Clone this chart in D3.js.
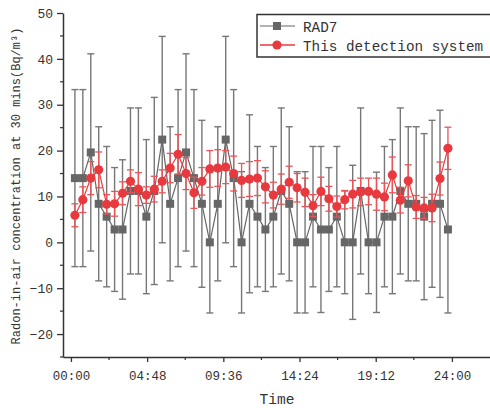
<!DOCTYPE html>
<html>
<head>
<meta charset="utf-8">
<script src="https://cdn.jsdelivr.net/npm/d3@7"></script>
<style>
  body { margin: 0; background: #fff; }
  svg { display: block; font-family: "Liberation Mono", "DejaVu Sans Mono", monospace; }
</style>
</head>
<body>
<svg id="chart" width="490" height="408"></svg>
<script>
// minutes after midnight for each 30-min sample
const times = [15, 45, 75, 105, 135, 165, 195, 225, 255, 285, 315, 345,
  375, 405, 435, 465, 495, 525, 555, 585, 615, 645, 675, 705,
  735, 765, 795, 825, 855, 885, 915, 945, 975, 1005, 1035, 1065,
  1095, 1125, 1155, 1185, 1215, 1245, 1275, 1305, 1335, 1365, 1395, 1425];

const rad7 = [14, 14, 19.6, 8.4, 5.6, 2.8, 2.8, 11.2, 11.2, 5.6, 11.2, 22.4,
  8.4, 14, 19.6, 14, 8.4, 0, 8.4, 22.4, 14, 0, 8.4, 5.6,
  2.8, 5.6, 11.2, 8.4, 0, 0, 5.6, 2.8, 2.8, 5.6, 0, 0,
  11.2, 0, 0, 5.6, 5.6, 11.2, 8.4, 8.4, 5.6, 8.4, 8.4, 2.8];
const rad7Err = [19.3, 19.3, 21.5, 16.8, 15.3, 13.5, 15.2, 18.1, 18.1, 16.8, 20.4, 22.5,
  16.8, 19.3, 21.5, 19.3, 18.2, 15.4, 16.8, 22.5, 19.3, 15.4, 19.4, 15.3,
  13.5, 15.3, 18.1, 16.8, 15.4, 15.4, 15.3, 18.1, 13.5, 15.3, 11.2, 16.8,
  18.1, 11.2, 15.3, 15.3, 16.8, 18.1, 16.8, 16.8, 18.1, 18.2, 20.4, 18.2];

const detect = [5.9, 9.3, 14.0, 15.8, 8.3, 8.4, 10.7, 13.3, 11.6, 10.3, 11.6, 13.3,
  16.2, 19.2, 15.0, 10.8, 13.3, 16.0, 16.2, 16.4, 15.0, 13.5, 13.8, 14.0,
  12.1, 10.3, 11.6, 13.1, 11.9, 10.9, 8.0, 11.1, 9.5, 7.8, 9.3, 10.5,
  11.0, 11.1, 10.5, 9.9, 14.7, 9.2, 13.4, 7.7, 7.5, 7.5, 13.9, 20.5];
const detectErr = [2.5, 2.8, 3.6, 3.9, 2.1, 2.7, 2.5, 2.5, 3.6, 1.8, 2.8, 2.5,
  3.2, 4.3, 3.5, 3.4, 3.0, 4.0, 4.0, 3.6, 3.8, 3.7, 3.8, 3.8,
  3.5, 2.8, 3.3, 3.5, 3.1, 3.1, 2.4, 3.1, 2.7, 2.3, 2.0, 3.0,
  3.0, 2.9, 3.5, 3.0, 3.9, 2.8, 3.5, 2.5, 2.3, 3.0, 3.6, 4.6];

const xTicks = [0, 288, 576, 864, 1152, 1440];
const xTickLabels = ["00:00", "04:48", "09:36", "14:24", "19:12", "24:00"];
const yTicks = [-20, -10, 0, 10, 20, 30, 40, 50];
const seriesNames = ["RAD7", "This detection system"];

const GRAY = "#666666", RED = "#e8393e", RED_BAR = "#e95458";

const svg = d3.select("#chart");
const x = d3.scaleLinear().domain([-30, 1584]).range([63, 490]);
const y = d3.scaleLinear().domain([-25, 50]).range([357, 13]);

// axes
const xAxis = d3.axisBottom(x).tickValues(xTicks)
  .tickFormat((d, i) => xTickLabels[i]).tickSize(5).tickSizeOuter(0);
const gx = svg.append("g").attr("transform", "translate(0,357)").call(xAxis);
gx.select(".domain").attr("stroke", "#333").attr("stroke-width", 1.5);
gx.selectAll(".tick line").attr("stroke", "#333").attr("stroke-width", 1.3);
gx.selectAll(".tick text").attr("font-family", "Liberation Mono")
  .attr("font-size", 12.5).attr("fill", "#333").attr("dy", "1.2em");
// minor x ticks
svg.append("g").selectAll("line")
  .data(xTicks.slice(0, -1).map(t => t + 144))
  .join("line")
  .attr("x1", d => x(d)).attr("x2", d => x(d))
  .attr("y1", 357).attr("y2", 360)
  .attr("stroke", "#333").attr("stroke-width", 1.2);

const yAxis = d3.axisLeft(y).tickValues(yTicks)
  .tickFormat(d => d < 0 ? "\u2212" + Math.abs(d) : d).tickSize(6).tickSizeOuter(0);
const gy = svg.append("g").attr("transform", "translate(63,0)").call(yAxis);
gy.select(".domain").attr("stroke", "#333").attr("stroke-width", 1.5);
gy.selectAll(".tick line").attr("stroke", "#333").attr("stroke-width", 1.3);
gy.selectAll(".tick text").attr("font-family", "Liberation Mono")
  .attr("font-size", 13).attr("fill", "#333").attr("x", -10);
// minor y ticks
svg.append("g").selectAll("line")
  .data(yTicks.map(t => t - 5))
  .join("line")
  .attr("x1", 60).attr("x2", 63)
  .attr("y1", d => y(d)).attr("y2", d => y(d))
  .attr("stroke", "#333").attr("stroke-width", 1.2);

// axis titles
svg.append("text").attr("x", 277).attr("y", 404).attr("text-anchor", "middle")
  .attr("font-size", 14.5).attr("fill", "#333").text("Time");
svg.append("text").attr("transform", "translate(20,186) rotate(-90)")
  .attr("text-anchor", "middle").attr("font-size", 12).attr("fill", "#333")
  .text("Radon-in-air concentration at 30 mins(Bq/m\u00b3)");

// draw one series with error bars
function drawSeries(vals, errs, opts) {
  const g = svg.append("g");
  const bars = g.append("g").attr("stroke", opts.barColor).attr("stroke-width", opts.barWidth);
  times.forEach((t, i) => {
    const cx = x(t), top = y(vals[i] + errs[i]), bot = y(vals[i] - errs[i]);
    bars.append("line").attr("x1", cx).attr("x2", cx).attr("y1", top).attr("y2", bot);
    bars.append("line").attr("x1", cx - opts.cap).attr("x2", cx + opts.cap).attr("y1", top).attr("y2", top);
    bars.append("line").attr("x1", cx - opts.cap).attr("x2", cx + opts.cap).attr("y1", bot).attr("y2", bot);
  });
  const line = d3.line().x((d, i) => x(times[i])).y(d => y(d));
  g.append("path").datum(vals).attr("d", line)
    .attr("fill", "none").attr("stroke", opts.color).attr("stroke-width", 1.2);
  if (opts.shape === "square") {
    g.selectAll("rect").data(vals).join("rect")
      .attr("x", (d, i) => x(times[i]) - 4).attr("y", d => y(d) - 4)
      .attr("width", 8).attr("height", 8).attr("fill", opts.color);
  } else {
    g.selectAll("circle").data(vals).join("circle")
      .attr("cx", (d, i) => x(times[i])).attr("cy", d => y(d))
      .attr("r", 4.6).attr("fill", opts.color);
  }
}

drawSeries(rad7, rad7Err, { color: GRAY, barColor: "#777", barWidth: 1.4, cap: 3.5, shape: "square" });
drawSeries(detect, detectErr, { color: RED, barColor: RED_BAR, barWidth: 1.3, cap: 3.5, shape: "circle" });

// legend (box runs off the right edge, as in the original)
const lg = svg.append("g");
lg.append("rect").attr("x", 257).attr("y", 14.5).attr("width", 245).attr("height", 42.5)
  .attr("fill", "#fff").attr("stroke", "#333").attr("stroke-width", 1.5);
[0, 1].forEach(k => {
  const ly = k === 0 ? 26 : 45;
  const col = k === 0 ? GRAY : RED;
  lg.append("line").attr("x1", 260).attr("x2", 295).attr("y1", ly).attr("y2", ly)
    .attr("stroke", k === 0 ? "#999" : RED).attr("stroke-width", 1.5);
  if (k === 0) {
    lg.append("rect").attr("x", 273).attr("y", ly - 4).attr("width", 8).attr("height", 8).attr("fill", col);
  } else {
    lg.append("circle").attr("cx", 277).attr("cy", ly).attr("r", 4.6).attr("fill", col);
  }
  lg.append("text").attr("x", 303).attr("y", ly + 5.5).attr("font-size", 14.3)
    .attr("fill", "#333").text(seriesNames[k]);
});
</script>
</body>
</html>
